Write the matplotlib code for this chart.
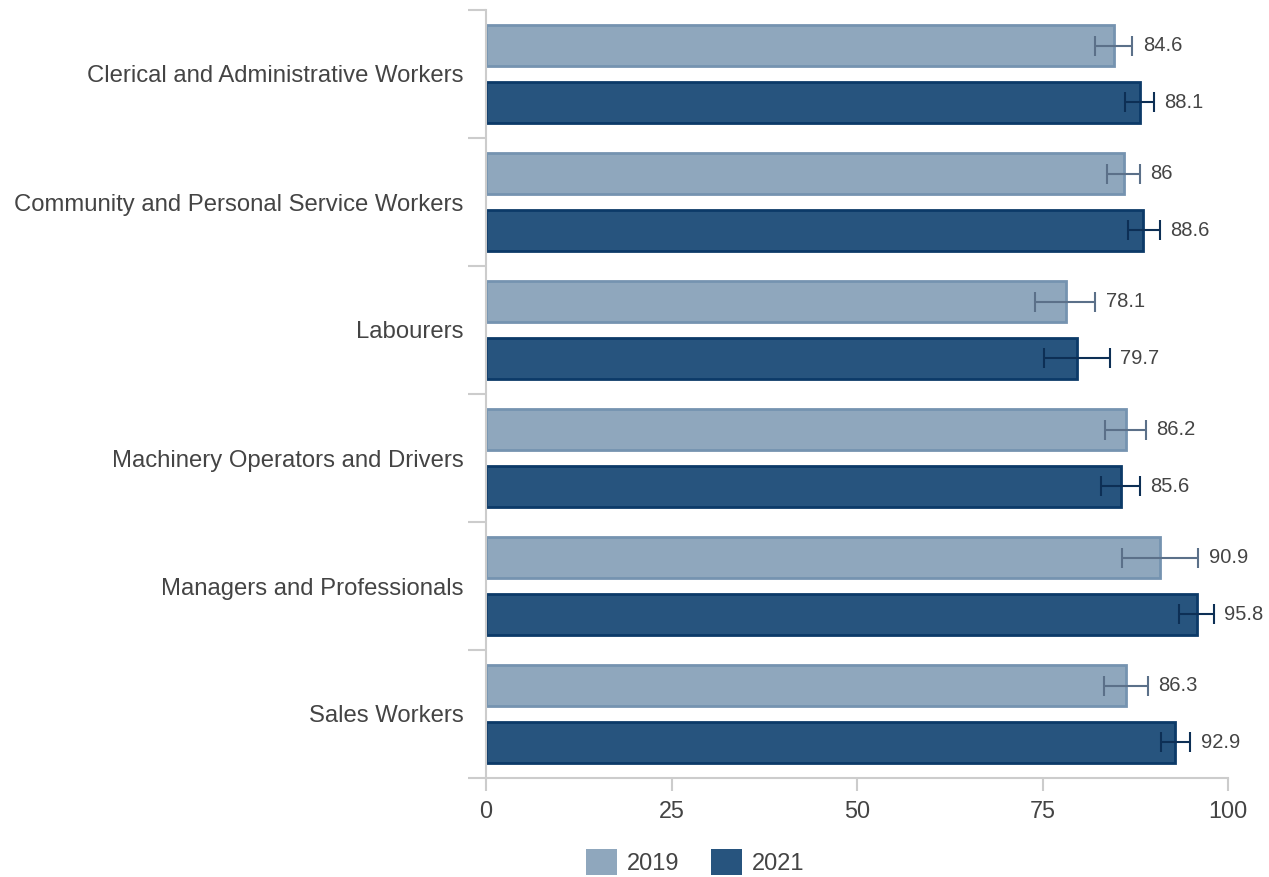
import matplotlib
matplotlib.use("Agg")
import matplotlib.pyplot as plt
from matplotlib.patches import Patch
import numpy as np

categories = ["Clerical and Administrative Workers",
              "Community and Personal Service Workers",
              "Labourers",
              "Machinery Operators and Drivers",
              "Managers and Professionals",
              "Sales Workers"]
years = ["2019", "2021"]
values_2019 = [84.6, 86.0, 78.1, 86.2, 90.9, 86.3]
values_2021 = [88.1, 88.6, 79.7, 85.6, 95.8, 92.9]
low_2019 = [82.1, 83.7, 74.0, 83.4, 85.7, 83.3]
high_2019 = [87.1, 88.1, 82.1, 88.9, 96.0, 89.2]
low_2021 = [86.1, 86.5, 75.2, 82.9, 93.4, 91.0]
high_2021 = [90.0, 90.8, 84.1, 88.1, 98.1, 94.9]
xticks = [0, 25, 50, 75, 100]

plt.rcParams['font.family'] = ['Liberation Sans', 'DejaVu Sans']
text_color = "#444444"
grid_color = "#cccccc"

fig = plt.figure(figsize=(12.69, 8.77), dpi=100)
ax = fig.add_axes([486/1269, 1-778/877, (1228-486)/1269, (778-10)/877])

n = len(categories)
y = np.arange(n)
h = 0.325
off = 0.222
series = [
    (values_2019, low_2019, high_2019, -off, "#8fa7bd", "#7593b0", "#5b7089"),
    (values_2021, low_2021, high_2021, off, "#27547e", "#0c3a68", "#0d2f55"),
]
for (vals, lo, hi, o, fc, ec, errc) in series:
    vals = np.array(vals); lo = np.array(lo); hi = np.array(hi)
    ax.barh(y + o, vals, height=h, color=fc, edgecolor=ec, linewidth=2, zorder=2)
    ax.errorbar(vals, y + o, xerr=[vals - lo, hi - vals], fmt='none',
                ecolor=errc, elinewidth=1.5, capsize=7, capthick=1.5, zorder=3)
    for yi, v, u in zip(y + o, vals, hi):
        ax.text(u + 1.4, yi, f"{v:g}", va='center', ha='left',
                fontsize=14.5, color=text_color)

ax.set_ylim(n - 0.5, -0.5)
ax.set_xlim(0, 100)
ax.set_xticks(xticks)
ax.set_xticklabels([str(t) for t in xticks])
ax.tick_params(axis='x', length=9, width=1.5, color=grid_color, labelsize=16.8,
               labelcolor=text_color, pad=7)
ax.set_yticks(np.arange(-0.5, n, 1.0))
ax.set_yticklabels([])
ax.set_yticks(y, minor=True)
ax.set_yticklabels(categories, minor=True)
ax.tick_params(axis='y', which='major', length=13, width=1.5, color=grid_color)
ax.tick_params(axis='y', which='minor', length=0, labelsize=17.2, labelcolor=text_color, pad=16)
for s in ['top', 'right']:
    ax.spines[s].set_visible(False)
for s in ['left', 'bottom']:
    ax.spines[s].set_color(grid_color)
    ax.spines[s].set_linewidth(1.5)

handles = [Patch(facecolor="#8fa7bd", edgecolor="none", label=years[0]),
           Patch(facecolor="#27547e", edgecolor="none", label=years[1])]
fig.legend(handles=handles, loc='center', bbox_to_anchor=(695/1269, 1-862/877),
           ncol=2, frameon=False, fontsize=17, handlelength=1.31, handleheight=1.31,
           handletextpad=0.42, columnspacing=1.36, labelcolor=text_color,
           borderpad=0, borderaxespad=0)

fig.savefig("out.png", dpi=100)
